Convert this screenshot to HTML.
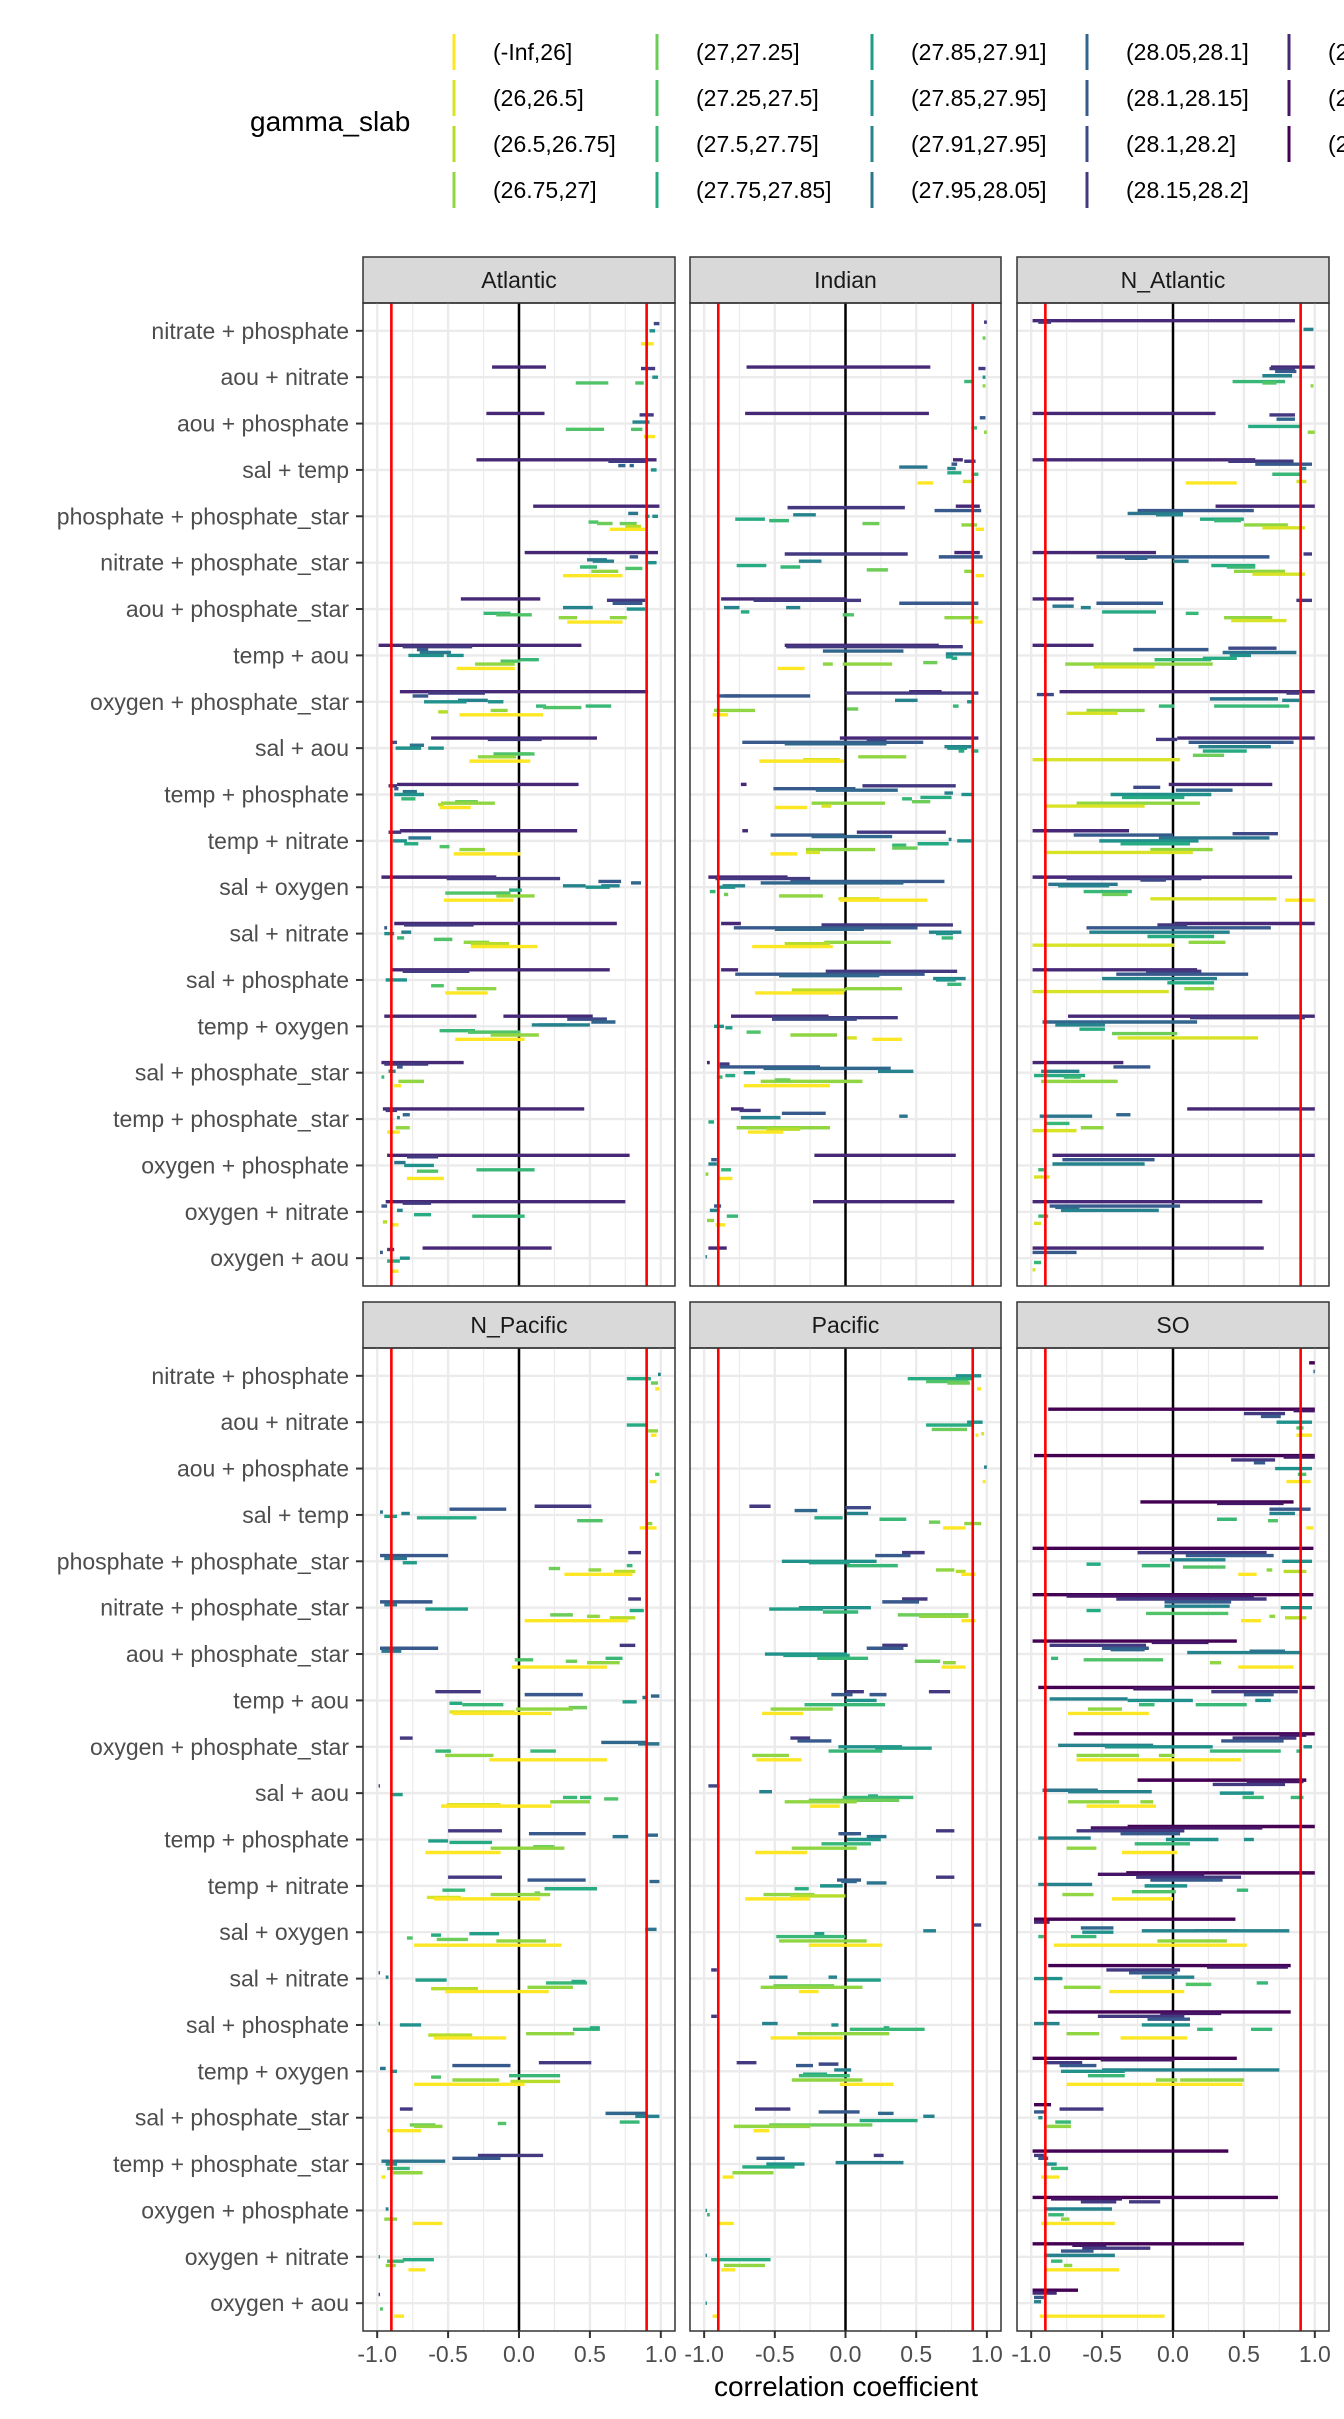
<!DOCTYPE html>
<html><head><meta charset="utf-8"><title>Correlation coefficients by gamma_slab</title>
<style>
html,body{margin:0;padding:0;background:#fff;}
svg{display:block;font-family:"Liberation Sans",Arial,sans-serif;}
</style></head>
<body>
<svg id="chart" xmlns="http://www.w3.org/2000/svg" width="1344" height="2419" viewBox="0 0 1344 2419">
<rect x="0" y="0" width="1344" height="2419" fill="#fff"/>
<g id="legend">
<text x="250" y="131" font-size="28" fill="#000">gamma_slab</text>
</g>
<g id="panels"></g>
<text x="846" y="2396" font-size="28" fill="#000" text-anchor="middle">correlation coefficient</text>
</svg>
<script>
// ---- data ----
const rowLabels = ["nitrate + phosphate","aou + nitrate","aou + phosphate","sal + temp","phosphate + phosphate_star","nitrate + phosphate_star","aou + phosphate_star","temp + aou","oxygen + phosphate_star","sal + aou","temp + phosphate","temp + nitrate","sal + oxygen","sal + nitrate","sal + phosphate","temp + oxygen","sal + phosphate_star","temp + phosphate_star","oxygen + phosphate","oxygen + nitrate","oxygen + aou"];
const panelNames = ["Atlantic","Indian","N_Atlantic","N_Pacific","Pacific","SO"];
const levelLabels = ["(-Inf,26]","(26,26.5]","(26.5,26.75]","(26.75,27]","(27,27.25]","(27.25,27.5]","(27.5,27.75]","(27.75,27.85]","(27.85,27.91]","(27.85,27.95]","(27.91,27.95]","(27.95,28.05]","(28.05,28.1]","(28.1,28.15]","(28.1,28.2]","(28.15,28.2]","(28.2,28.3]","(28.3,28.4]","(28.4,Inf]"];
const xTicks = [-1.0,-0.5,0.0,0.5,1.0];
const xTickLabels = ["-1.0","-0.5","0.0","0.5","1.0"];
const thresholds = [-0.9,0.9];
// segments: [row, level, xmin, xmax]
const segAtlantic = [
[0,9,.92,.96],[0,0,.86,.95],[0,14,.95,.99],
[1,16,-.19,.19],[1,15,.86,.96],[1,5,.40,.63],[1,5,.82,.88],[1,9,.94,.98],
[2,16,-.23,.18],[2,15,.85,.95],[2,10,.80,.92],[2,5,.33,.60],[2,5,.79,.87],[2,0,.88,.96],
[3,16,-.30,.97],[3,15,.63,.90],[3,12,.70,.75],[3,12,.78,.81],[3,9,.93,.97],
[4,16,.10,.99],[4,11,.77,.84],[4,9,.89,.92],[4,5,.49,.56],[4,4,.55,.66],[4,4,.71,.83],[4,2,.75,.86],[4,0,.64,.89],[4,9,.94,.98],
[5,16,.04,.98],[5,11,.48,.62],[5,10,.52,.67],[5,13,.78,.84],[5,6,.43,.55],[5,5,.75,.87],[5,3,.51,.70],[5,0,.31,.73],[5,9,.91,.97],
[6,16,-.41,.15],[6,15,.62,.89],[6,13,.66,.87],[6,10,.31,.52],[6,9,.76,.89],[6,6,-.25,-.06],[6,5,-.16,.09],[6,3,.28,.41],[6,3,.64,.76],[6,0,.34,.73],
[7,16,-.99,.44],[7,15,-.82,-.33],[7,13,-.72,-.64],[7,11,-.70,-.48],[7,9,-.78,-.53],[7,9,-.51,-.39],[7,6,.01,.14],[7,5,-.13,.01],[7,3,-.31,-.03],[7,0,-.44,-.03],
[8,16,-.84,.91],[8,15,-.64,-.24],[8,13,-.75,-.64],[8,10,-.43,-.22],[8,9,-.67,-.37],[8,9,-.22,-.11],[8,6,.12,.19],[8,5,.17,.44],[8,6,.47,.65],[8,3,-.20,-.08],[8,2,-.57,-.50],[8,0,-.42,.17],
[9,16,-.62,.55],[9,15,-.22,.16],[9,13,-.90,-.86],[9,11,-.77,-.67],[9,9,-.87,-.69],[9,9,-.64,-.53],[9,5,-.18,.11],[9,5,-.01,.08],[9,3,-.29,-.02],[9,0,-.35,.08],
[10,16,-.86,.42],[10,15,-.92,-.86],[10,13,-.88,-.85],[10,11,-.82,-.72],[10,9,-.88,-.67],[10,6,-.83,-.73],[10,4,-.45,-.29],[10,3,-.55,-.17],[10,2,-.57,-.53],[10,0,-.56,-.34],
[11,16,-.84,.41],[11,15,-.92,-.83],[11,11,-.78,-.62],[11,9,-.89,-.79],[11,7,-.81,-.71],[11,5,-.56,-.49],[11,3,-.42,-.24],[11,0,-.46,.01],
[12,16,-.97,-.16],[12,15,-.51,.29],[12,13,.56,.72],[12,12,.79,.86],[12,10,.31,.47],[12,10,.58,.71],[12,9,.47,.64],[12,7,-.07,.02],[12,5,-.52,-.16],[12,5,-.17,-.06],[12,3,-.16,.11],[12,0,-.53,-.04],
[13,16,-.88,.69],[13,15,-.81,-.32],[13,13,-.95,-.93],[13,10,-.83,-.76],[13,9,-.95,-.88],[13,6,-.86,-.81],[13,5,-.60,-.47],[13,3,-.39,-.21],[13,2,-.34,-.07],[13,0,-.34,.13],
[14,16,-.90,.64],[14,15,-.82,-.35],[14,9,-.94,-.79],[14,5,-.62,-.53],[14,3,-.44,-.16],[14,0,-.52,-.22],
[15,16,-.95,-.30],[15,16,-.11,.52],[15,14,.34,.62],[15,12,.51,.68],[15,10,.14,.50],[15,10,.09,.33],[15,6,-.56,-.31],[15,5,-.36,.01],[15,3,-.20,.14],[15,0,-.45,.04],
[16,16,-.97,-.39],[16,15,-.95,-.64],[16,13,-.86,-.82],[16,10,-.92,-.87],[16,6,-.97,-.95],[16,3,-.85,-.67],[16,0,-.88,-.83],
[17,16,-.96,.46],[17,15,-.94,-.86],[17,12,-.82,-.77],[17,10,-.86,-.84],[17,3,-.87,-.77],[17,0,-.93,-.84],
[18,16,-.93,.78],[18,15,-.79,-.57],[18,11,-.88,-.80],[18,9,-.81,-.60],[18,6,-.30,.11],[18,5,-.72,-.57],[18,0,-.79,-.53],
[19,16,-.94,.75],[19,15,-.82,-.62],[19,13,-.97,-.93],[19,10,-.86,-.82],[19,7,-.74,-.62],[19,6,-.33,.04],[19,2,-.96,-.93],[19,0,-.90,-.85],
[20,16,-.68,.23],[20,15,-.93,-.88],[20,13,-.98,-.96],[20,9,-.84,-.77],[20,7,-.93,-.84],[20,0,-.90,-.85]
];
const segIndian = [
[0,15,.98,1.0],[0,4,.97,.99],
[1,16,-.70,.60],[1,15,.94,.99],[1,6,.84,.90],[1,9,.97,.99],[1,3,.97,.99],
[2,16,-.71,.59],[2,13,.95,.99],[2,6,.89,.93],[2,3,.98,1.0],
[3,16,.76,.83],[3,15,.84,.92],[3,13,.75,.79],[3,11,.38,.58],[3,10,.72,.78],[3,7,.72,.82],[3,6,.89,.94],[3,0,.51,.62],[3,1,.83,.91],
[4,16,.78,.95],[4,15,-.41,.42],[4,13,.63,.96],[4,10,-.37,-.21],[4,7,-.78,-.57],[4,6,-.54,-.40],[4,4,.12,.24],[4,3,.82,.93],[4,0,.92,.98],
[5,16,.77,.95],[5,15,-.43,.44],[5,13,.66,.97],[5,10,-.33,-.17],[5,7,-.77,-.56],[5,6,-.46,-.32],[5,4,.15,.30],[5,3,.84,.91],[5,0,.92,.98],
[6,16,-.88,.01],[6,15,-.65,.01],[6,15,.01,.11],[6,13,.38,.94],[6,10,-.42,-.32],[6,10,-.86,-.75],[6,7,-.74,-.68],[6,5,-.02,.06],[6,3,.70,.94],[6,0,.88,.97],
[7,16,-.43,.66],[7,15,-.42,.83],[7,12,-.16,.41],[7,10,.71,.91],[7,8,.71,.76],[7,7,.75,.79],[7,4,.55,.65],[7,3,-.02,.33],[7,3,-.16,-.09],[7,0,-.48,-.29],
[8,16,.45,.68],[8,15,0,.94],[8,13,-.91,-.25],[8,13,-.86,-.74],[8,10,.35,.51],[8,9,.86,.91],[8,6,.76,.80],[8,4,.01,.09],[8,3,-.93,-.64],[8,0,-.94,-.83],
[9,16,-.04,.94],[9,15,.15,.29],[9,13,-.73,.55],[9,12,-.43,.29],[9,10,.70,.89],[9,9,.72,.86],[9,7,.80,.84],[9,7,.89,.94],[9,3,.09,.43],[9,1,-.30,-.04],[9,0,-.61,-.01],
[10,16,-.74,-.70],[10,15,.12,.78],[10,13,-.51,.07],[10,12,-.21,.37],[10,10,.70,.76],[10,9,.82,.91],[10,7,.53,.75],[10,6,.40,.47],[10,4,.47,.60],[10,3,-.24,.28],[10,1,-.17,-.10],[10,0,-.50,-.27],
[11,16,-.73,-.69],[11,15,.08,.71],[11,13,-.53,-.01],[11,12,-.24,.33],[11,10,.73,.75],[11,9,.79,.89],[11,7,.51,.73],[11,6,.33,.43],[11,4,.33,.51],[11,3,-.28,.21],[11,1,-.28,-.18],[11,0,-.53,-.34],
[12,16,-.97,-.41],[12,15,-.92,-.25],[12,13,-.39,.70],[12,12,-.60,.41],[12,10,-.87,-.71],[12,9,-.90,-.78],[12,6,-.96,-.92],[12,4,-.86,-.83],[12,3,-.47,-.16],[12,1,-.05,.24],[12,0,-.04,.58],
[13,16,-.88,-.74],[13,15,-.17,.76],[13,13,-.79,.51],[13,12,-.50,.13],[13,10,.59,.82],[13,9,.64,.76],[13,6,.68,.76],[13,3,-.15,.32],[13,2,-.43,-.11],[13,0,-.66,-.09],
[14,16,-.88,-.76],[14,15,-.14,.79],[14,13,-.78,.56],[14,12,-.47,.24],[14,10,.62,.85],[14,9,.64,.78],[14,6,.72,.82],[14,3,0,.40],[14,2,-.38,0],[14,0,-.64,-.01],
[15,16,-.81,-.12],[15,15,-.52,.37],[15,14,-.52,.08],[15,9,-.93,-.86],[15,8,-.85,-.80],[15,5,-.70,-.60],[15,3,-.39,-.06],[15,1,.01,.08],[15,0,.19,.40],
[16,16,-.98,-.96],[16,15,-.89,-.82],[16,13,-.89,-.18],[16,12,-.58,.32],[16,10,.23,.48],[16,9,-.72,-.64],[16,7,-.85,-.78],[16,6,-.91,-.87],[16,3,-.60,.12],[16,4,-.50,-.39],[16,0,-.72,-.11],
[17,16,-.81,-.72],[17,15,-.75,-.60],[17,13,-.45,-.14],[17,10,-.74,-.46],[17,11,.38,.44],[17,7,-.97,-.93],[17,3,-.77,-.11],[17,2,-.56,-.32],[17,0,-.69,-.44],
[18,16,-.22,.78],[18,13,-.95,-.91],[18,10,-.97,-.91],[18,6,-.88,-.81],[18,3,-.99,-.97],[18,0,-.89,-.80],
[19,16,-.23,.77],[19,13,-.93,-.88],[19,10,-.96,-.89],[19,6,-.84,-.76],[19,3,-.98,-.93],[19,0,-.92,-.85],
[20,16,-.97,-.84],[20,10,-.99,-.98]
];
const segNAtlantic = [
[0,16,-.99,.86],[0,15,-.95,-.86],[0,10,.92,.99],
[1,16,.69,1.0],[1,15,.68,.86],[1,13,.72,.87],[1,10,.63,.84],[1,6,.42,.79],[1,5,.63,.73],[1,3,.97,.99],
[2,16,-.99,.30],[2,15,.68,.86],[2,12,.73,.86],[2,7,.53,.91],[2,3,.95,1.0],
[3,16,-.99,.58],[3,15,.39,.85],[3,13,.58,.98],[3,10,.89,.94],[3,6,.70,.90],[3,0,.09,.45],[3,1,.87,.94],
[4,16,.30,1.0],[4,13,-.25,.57],[4,11,-.32,.07],[4,10,-.12,.07],[4,7,.19,.50],[4,6,.29,.48],[4,3,.50,.81],[4,1,.63,.93],
[5,16,-.99,-.12],[5,15,.92,.98],[5,13,-.54,.68],[5,12,-.34,-.18],[5,10,0,.11],[5,7,.27,.58],[5,6,.38,.58],[5,3,.43,.79],[5,1,.56,.93],
[6,16,-.99,-.70],[6,15,.87,.98],[6,11,-.85,-.70],[6,13,-.54,-.07],[6,10,-.65,-.58],[6,7,-.50,-.12],[6,6,.09,.18],[6,3,.36,.70],[6,1,.41,.80],
[7,16,-.99,-.56],[7,13,-.28,.25],[7,14,.39,.73],[7,11,.35,.87],[7,9,.40,.55],[7,6,-.13,.27],[7,7,.21,.45],[7,3,-.76,.28],[7,1,-.56,-.13],
[8,16,-.80,1.0],[8,15,.80,.89],[8,14,-.96,-.84],[8,11,.26,.74],[8,10,.77,.89],[8,6,.29,.82],[8,6,-.10,.01],[8,3,-.61,-.20],[8,1,-.75,-.39],
[9,16,.03,1.0],[9,15,-.12,.03],[9,13,.11,.85],[9,10,.18,.69],[9,7,.21,.52],[9,4,.14,.36],[9,1,-.99,.05],
[10,16,-.03,.70],[10,14,-.28,-.09],[10,12,.02,.42],[10,9,-.44,.27],[10,7,-.36,.08],[10,3,-.68,.19],[10,1,-.90,-.20],
[11,16,-.99,-.31],[11,14,.42,.74],[11,13,-.70,0],[11,11,-.10,.68],[11,9,-.52,.18],[11,7,-.37,.12],[11,3,-.16,.28],[11,1,-.89,.14],
[12,16,-.99,.84],[12,15,-.75,.20],[12,14,-.23,-.05],[12,11,-.88,-.39],[12,10,-.81,-.45],[12,6,-.63,-.29],[12,4,-.50,-.32],[12,1,-.16,.73],[12,0,.79,1.0],
[13,16,.01,1.0],[13,15,-.11,.10],[13,13,-.61,.69],[13,10,-.59,.40],[13,7,-.18,.29],[13,3,.11,.37],[13,1,-.99,.01],
[14,16,-.99,.17],[14,15,-.19,.20],[14,13,-.40,.53],[14,10,-.50,.31],[14,7,-.04,.29],[14,3,.08,.29],[14,1,-.99,-.03],
[15,16,-.74,1.0],[15,15,.12,.93],[15,12,-.92,.17],[15,10,-.83,-.48],[15,7,-.66,-.48],[15,4,-.43,.03],[15,1,-.39,.60],
[16,16,-.99,-.35],[16,13,-.42,-.16],[16,10,-.93,-.66],[16,7,-.98,-.62],[16,6,-.77,-.65],[16,3,-.93,-.39],
[17,16,.10,1.0],[17,11,-.94,-.57],[17,12,-.40,-.30],[17,6,-.90,-.73],[17,3,-.65,-.49],[17,1,-.99,-.68],
[18,16,-.85,1.0],[18,13,-.78,-.13],[18,10,-.85,-.20],[18,6,-.95,-.91],[18,1,-.98,-.87],
[19,16,-.99,.63],[19,13,-.87,.05],[19,12,-.83,-.66],[19,10,-.79,-.10],[19,6,-.95,-.88],[19,1,-.98,-.93],
[20,16,-.99,.64],[20,13,-.99,-.68],[20,6,-.98,-.93],[20,1,-.99,-.97]
];
const segNPacific = [
[0,7,.76,.93],[0,4,.93,.98],[0,0,.96,.99],[0,10,.98,1.0],
[1,7,.76,.91],[1,3,.91,.98],[1,0,.93,.97],
[2,0,.92,.97],[2,5,.96,.99],
[3,15,.11,.51],[3,13,-.49,-.09],[3,11,-.98,-.96],[3,10,-.83,-.77],[3,7,-.72,-.30],[3,8,-.95,-.86],[3,5,.41,.59],[3,3,.90,.94],[3,0,.85,.97],
[4,15,.77,.86],[4,13,-.98,-.50],[4,11,-.95,-.79],[4,8,-.82,-.72],[4,6,.76,.80],[4,4,.21,.29],[4,3,.49,.58],[4,2,.67,.82],[4,0,.32,.80],
[5,15,.77,.86],[5,13,-.98,-.61],[5,11,-.95,-.86],[5,8,-.66,-.36],[5,7,.78,.88],[5,4,.22,.38],[5,3,.48,.57],[5,2,.64,.82],[5,0,.04,.77],
[6,15,.71,.82],[6,13,-.98,-.57],[6,11,-.97,-.83],[6,6,.61,.73],[6,5,-.03,.10],[6,4,.33,.41],[6,3,.48,.71],[6,0,-.05,.62],
[7,15,-.59,-.27],[7,13,.04,.45],[7,11,.87,.90],[7,12,.93,.99],[7,8,.73,.83],[7,7,-.49,-.40],[7,6,-.40,-.11],[7,4,.35,.48],[7,3,-.02,.38],[7,1,-.49,-.03],[7,0,-.47,.23],
[8,15,-.84,-.75],[8,12,.58,.90],[8,11,.84,.99],[8,6,.08,.26],[8,6,-.59,-.48],[8,3,-.52,-.18],[8,0,-.21,.62],
[9,14,-.99,-.98],[9,8,-.91,-.82],[9,6,.31,.41],[9,6,.43,.51],[9,5,.60,.70],[9,3,.22,.50],[9,1,-.51,-.13],[9,0,-.55,.23],
[10,15,-.50,-.12],[10,13,.07,.47],[10,11,.66,.77],[10,12,.90,.98],[10,8,-.64,-.50],[10,7,-.49,-.19],[10,4,.10,.25],[10,3,-.20,.32],[10,0,-.66,-.13],
[11,15,-.50,-.12],[11,13,.06,.47],[11,12,.92,.99],[11,7,.18,.55],[11,6,-.54,-.38],[11,4,.11,.15],[11,3,-.20,.22],[11,1,-.65,-.41],[11,0,-.60,.15],
[12,11,.89,.97],[12,8,-.35,-.14],[12,7,-.62,-.55],[12,5,-.79,-.75],[12,4,-.58,-.36],[12,3,-.16,.19],[12,0,-.74,.30],
[13,13,-.99,-.98],[13,10,-.94,-.92],[13,8,-.73,-.51],[13,6,.19,.48],[13,7,.37,.47],[13,3,.06,.38],[13,2,-.62,-.29],[13,0,-.52,.21],
[14,10,-.99,-.98],[14,9,-.84,-.69],[14,6,.38,.57],[14,7,.50,.57],[14,3,.05,.39],[14,2,-.64,-.33],[14,0,-.60,-.09],
[15,15,.14,.51],[15,13,-.47,-.06],[15,11,-.98,-.94],[15,9,-.91,-.86],[15,6,-.07,.29],[15,5,-.62,-.55],[15,3,-.47,-.14],[15,2,-.06,.29],[15,0,-.74,.04],
[16,15,-.84,-.75],[16,12,.61,.90],[16,10,.82,.99],[16,6,.71,.85],[16,5,-.15,-.09],[16,4,-.77,-.59],[16,3,-.74,-.54],[16,0,-.93,-.69],
[17,15,-.29,.17],[17,13,-.47,-.13],[17,11,-.97,-.52],[17,9,-.94,-.86],[17,6,-.93,-.77],[17,3,-.89,-.68],[17,0,-.97,-.94],
[18,10,-.94,-.92],[18,3,-.95,-.86],[18,0,-.75,-.54],
[19,9,-.99,-.98],[19,7,-.82,-.60],[19,6,-.93,-.81],[19,3,-.94,-.87],[19,0,-.78,-.66],
[20,15,-.99,-.98],[20,5,-.98,-.96],[20,0,-.88,-.81]
];
const segPacific = [
[0,9,.78,.96],[0,7,.44,.90],[0,5,.57,.87],[0,4,.72,.88],[0,0,.93,.96],
[1,9,.86,.97],[1,7,.57,.90],[1,4,.61,.86],[1,0,.92,.94],[1,1,.96,.98],
[2,10,.98,1.0],[2,0,.97,.99],
[3,15,-.68,-.53],[3,14,0,.18],[3,12,-.36,-.20],[3,10,.01,.16],[3,7,-.22,-.02],[3,6,.24,.43],[3,4,.59,.67],[3,3,.84,.96],[3,0,.69,.85],
[4,15,.40,.56],[4,13,.21,.46],[4,9,-.45,.22],[4,8,-.26,.03],[4,6,.01,.37],[4,3,.64,.77],[4,2,.78,.85],[4,0,.82,.92],
[5,15,.40,.58],[5,13,.26,.52],[5,9,-.33,.18],[5,8,-.54,-.16],[5,6,-.16,.09],[5,4,.37,.87],[5,3,.52,.87],[5,0,.82,.92],
[6,15,.26,.44],[6,13,.15,.41],[6,9,-.57,.01],[6,8,-.44,.03],[6,6,-.20,.16],[6,4,.49,.67],[6,3,.69,.78],[6,0,.68,.85],
[7,15,.59,.74],[7,15,0,.13],[7,13,-.10,.05],[7,13,.17,.29],[7,9,0,.22],[7,6,-.29,.28],[7,3,-.53,-.09],[7,0,-.59,-.30],
[8,15,-.39,-.25],[8,13,-.34,-.10],[8,9,-.05,.40],[8,8,.21,.61],[8,6,-.12,.26],[8,3,-.66,-.40],[8,0,-.63,-.31],
[9,14,-.97,-.89],[9,10,-.61,-.52],[9,7,.16,.23],[9,6,-.02,.48],[9,4,-.26,.38],[9,3,-.43,.08],[9,0,-.25,-.04],
[10,15,.64,.77],[10,13,-.05,.11],[10,13,-.03,.07],[10,11,.15,.29],[10,9,.01,.25],[10,6,-.17,.18],[10,3,-.38,.08],[10,0,-.64,-.27],
[11,15,.64,.77],[11,13,-.06,.11],[11,12,-.03,.08],[11,11,.15,.29],[11,9,-.18,-.02],[11,7,-.36,-.26],[11,3,-.58,-.22],[11,2,-.39,0],[11,0,-.71,-.25],
[12,14,.90,.96],[12,10,.55,.64],[12,8,-.22,-.15],[12,6,-.49,0],[12,3,-.47,.15],[12,0,-.26,.26],
[13,15,-.95,-.91],[13,10,-.54,-.41],[13,10,-.12,-.06],[13,8,.01,.25],[13,4,-.51,-.08],[13,3,-.60,.12],[13,0,-.33,-.19],
[14,15,-.95,-.91],[14,10,-.59,-.48],[14,9,-.10,-.05],[14,7,.27,.31],[14,6,.03,.56],[14,3,-.34,.31],[14,0,-.53,-.02],
[15,15,-.77,-.63],[15,13,-.35,-.23],[15,14,-.19,-.05],[15,10,-.08,.04],[15,7,-.30,-.13],[15,6,-.33,.03],[15,3,-.38,.12],[15,0,-.04,.34],
[16,15,-.64,-.39],[16,13,-.19,.10],[16,12,.23,.34],[16,10,.55,.63],[16,7,.10,.51],[16,4,-.54,.19],[16,3,-.79,-.25],[16,0,-.65,-.54],
[17,15,.20,.27],[17,13,-.63,-.43],[17,10,-.07,.41],[17,9,-.56,-.29],[17,7,-.73,-.36],[17,3,-.80,-.51],[17,0,-.87,-.79],
[18,9,-.99,-.98],[18,6,-.98,-.96],[18,0,-.89,-.79],
[19,10,-.99,-.98],[19,7,-.95,-.53],[19,3,-.86,-.57],[19,0,-.88,-.78],
[20,9,-.99,-.98],[20,0,-.94,-.89]
];
const segSO = [
[0,18,.96,1.0],[0,12,.99,1.0],
[1,18,-.88,1.0],[1,17,.85,1.0],[1,15,.50,.79],[1,13,.62,.76],[1,9,.73,.98],[1,5,.87,.92],[1,0,.87,.98],
[2,18,-.98,1.0],[2,17,.78,1.0],[2,15,.41,.72],[2,13,.57,.65],[2,9,.72,.98],[2,5,.88,.94],[2,0,.80,.97],
[3,18,-.23,.85],[3,17,.31,.78],[3,13,.68,.97],[3,10,.68,.86],[3,6,.31,.45],[3,5,.67,.74],[3,0,.94,.99],
[4,18,-.99,.99],[4,15,-.25,.66],[4,13,.09,.71],[4,10,-.02,.37],[4,9,.77,.98],[4,7,-.61,-.51],[4,6,-.22,-.02],[4,5,.07,.37],[4,3,.66,.70],[4,2,.78,.94],[4,0,.46,.59],
[5,18,-.99,.99],[5,17,-.75,.57],[5,15,-.40,.66],[5,13,-.06,.41],[5,10,-.06,.40],[5,9,.76,.98],[5,7,-.61,-.51],[5,5,-.19,.39],[5,3,.68,.72],[5,2,.79,.94],[5,0,.48,.62],
[6,18,-.99,.45],[6,17,-.15,.25],[6,15,-.87,-.19],[6,13,-.50,-.17],[6,12,-.44,-.20],[6,10,.10,.91],[6,11,.54,.79],[6,6,-.86,-.81],[6,5,-.63,-.07],[6,3,.26,.34],[6,0,.46,.85],
[7,18,-.95,1.0],[7,17,-.28,.01],[7,15,.27,.88],[7,13,.50,.71],[7,10,-.87,-.32],[7,9,-.32,.14],[7,9,.58,.69],[7,6,-.24,-.13],[7,6,.16,.52],[7,3,-.60,-.36],[7,0,-.74,-.17],
[8,18,-.70,1.0],[8,17,.75,.94],[8,15,.42,.87],[8,13,.34,.78],[8,10,-.81,-.14],[8,9,-.48,.28],[8,9,.92,.98],[8,6,.26,.76],[8,6,.87,.91],[8,3,-.68,-.24],[8,3,-.10,.01],[8,0,-.68,.48],
[9,18,-.25,.94],[9,17,.52,.92],[9,15,.28,.79],[9,11,-.92,-.53],[9,10,-.74,-.15],[9,9,.33,.57],[9,6,.49,.64],[9,6,.83,.92],[9,3,-.23,-.14],[9,3,-.74,-.38],[9,0,-.61,-.12],
[10,18,-.32,1.0],[10,17,-.58,.63],[10,15,-.68,.08],[10,13,-.37,.05],[10,10,-.95,-.58],[10,9,-.05,.32],[10,9,.50,.57],[10,6,-.27,.12],[10,3,-.75,-.54],[10,0,-.36,.03],
[11,18,-.33,1.0],[11,17,-.53,.22],[11,15,-.26,.48],[11,13,-.16,.35],[11,10,-.95,-.57],[11,9,-.20,.10],[11,6,.45,.53],[11,5,-.29,.02],[11,3,-.78,-.56],[11,0,-.43,0],
[12,18,-.98,.44],[12,16,-.98,-.87],[12,12,-.65,-.42],[12,10,-.22,.82],[12,10,.15,.46],[12,9,-.64,-.42],[12,6,-.72,-.54],[12,6,-.95,-.91],[12,3,-.11,.38],[12,0,-.84,.52],
[13,18,-.88,.83],[13,17,.24,.81],[13,15,-.47,.05],[13,13,-.31,.03],[13,10,-.22,.15],[13,9,-.98,-.78],[13,6,.59,.67],[13,5,.09,.27],[13,3,-.77,-.51],[13,0,-.45,.08],
[14,18,-.88,.83],[14,17,-.09,.34],[14,15,-.53,.08],[14,13,-.18,.12],[14,10,-.98,-.80],[14,9,-.22,.12],[14,6,.17,.28],[14,6,.55,.70],[14,3,-.75,-.52],[14,0,-.37,.10],
[15,18,-.99,.45],[15,17,-.51,.01],[15,15,-.91,-.64],[15,13,-.80,-.54],[15,10,-.50,.75],[15,9,-.79,-.34],[15,6,-.60,-.34],[15,3,-.12,.03],[15,3,.05,.50],[15,0,-.75,.49],
[16,18,-.98,-.86],[16,15,-.80,-.49],[16,13,-.98,-.90],[16,9,-.95,-.92],[16,6,-.83,-.72],[16,3,-.89,-.72],
[17,18,-.99,.39],[17,15,-.98,-.91],[17,13,-.95,-.88],[17,9,-.91,-.82],[17,6,-.86,-.74],[17,0,-.93,-.80],
[18,18,-.99,.74],[18,17,-.86,-.36],[18,15,-.65,-.40],[18,15,-.31,-.09],[18,10,-.91,-.43],[18,6,-.88,-.77],[18,3,-.79,-.73],[18,0,-.93,-.41],
[19,18,-.99,.50],[19,17,-.71,-.47],[19,15,-.64,-.16],[19,13,-.79,-.56],[19,10,-.91,-.41],[19,6,-.86,-.78],[19,3,-.77,-.71],[19,0,-.90,-.38],
[20,18,-.99,-.67],[20,16,-.99,-.82],[20,13,-.98,-.91],[20,10,-.98,-.93],[20,0,-.94,-.06]
];
const panelSegments = [segAtlantic, segIndian, segNAtlantic, segNPacific, segPacific, segSO];

// ---- layout ----
const NS = "http://www.w3.org/2000/svg";
const svg = document.getElementById("chart");
const panelsG = document.getElementById("panels");
const legendG = document.getElementById("legend");
const colX = [[363,675],[690,1001],[1017,1329]];
const rowTop = [303,1348];
const stripTop = [257,1302];
const panelH = 983;
const XMIN = -1.1, XMAX = 1.1;
const vir = ["#440154","#482475","#414487","#355f8d","#2a788e","#21918c","#22a884","#44bf70","#7ad151","#bddf26","#fde725"];
function hex2rgb(h){return [parseInt(h.substr(1,2),16),parseInt(h.substr(3,2),16),parseInt(h.substr(5,2),16)];}
function viridis(t){
  const p=t*10, i=Math.min(9,Math.floor(p)), f=p-i;
  const a=hex2rgb(vir[i]), b=hex2rgb(vir[i+1]);
  return "rgb("+a.map((v,k)=>Math.round(v+(b[k]-v)*f)).join(",")+")";
}
const NL = levelLabels.length;
function levelColor(l){return viridis(1 - l/(NL-1));}
function mk(tag, attrs){const e=document.createElementNS(NS,tag); for(const k in attrs) e.setAttribute(k, attrs[k]); return e;}

// legend
for (let i=0;i<NL;i++){
  const col=Math.floor(i/4), r=i%4;
  const kx=[454,657,872,1087,1289][col], cy=[52,98,144,190][r];
  const g=mk("g",{});
  
  
  const ln=mk("line",{x1:kx,x2:kx,y1:cy-18,y2:cy+18,stroke:levelColor(i),"stroke-width":3});
  
  
  const tx=mk("text",{x:kx+39,y:cy+8,"font-size":23,fill:"#000"});
  
  
  tx.textContent=levelLabels[i];
  g.appendChild(ln); g.appendChild(tx); legendG.appendChild(g);
}

panelNames.forEach((name, pi)=>{
  const c=pi%3, r=Math.floor(pi/3);
  const x0=colX[c][0], x1=colX[c][1], y0=rowTop[r], y1=y0+panelH;
  const W=x1-x0;
  const xs=v=>x0+(v-XMIN)/(XMAX-XMIN)*W;
  const unit=panelH/(rowLabels.length-1+1.2);
  const ys=k=>y0+(0.6+k)*unit;
  const g=mk("g",{});
  
  
  panelsG.appendChild(g);
  const st=mk("rect",{x:x0,y:stripTop[r],width:W,height:y0-stripTop[r],fill:"#d9d9d9",stroke:"#333","stroke-width":1.5});
  
  
  g.appendChild(st);
  const stt=mk("text",{x:(x0+x1)/2,y:stripTop[r]+31,"font-size":23,fill:"#1a1a1a","text-anchor":"middle"});
  
  
  stt.textContent=name; g.appendChild(stt);
  [-0.75,-0.25,0.25,0.75].forEach(v=>{
    const l=mk("line",{x1:xs(v),x2:xs(v),y1:y0,y2:y1,stroke:"#ebebeb","stroke-width":1.2});
    
    
    g.appendChild(l);
  });
  xTicks.forEach(v=>{
    const l=mk("line",{x1:xs(v),x2:xs(v),y1:y0,y2:y1,stroke:"#ebebeb","stroke-width":2.4});
    
    
    g.appendChild(l);
  });
  rowLabels.forEach((lab,k)=>{
    const l=mk("line",{x1:x0,x2:x1,y1:ys(k),y2:ys(k),stroke:"#ebebeb","stroke-width":2.4});
    
    
    g.appendChild(l);
  });
  const z=mk("line",{x1:xs(0),x2:xs(0),y1:y0,y2:y1,stroke:"#000","stroke-width":2.5});
  
  
  g.appendChild(z);
  panelSegments[pi].forEach(s=>{
    const yy=ys(s[0]) + 13 - s[1]*26/(NL-1);
    const l=mk("line",{x1:xs(s[2]),x2:xs(s[3]),y1:yy,y2:yy,stroke:levelColor(s[1]),"stroke-width":3.4});
    
    
    g.appendChild(l);
  });
  thresholds.forEach(v=>{
    const l=mk("line",{x1:xs(v),x2:xs(v),y1:y0,y2:y1,stroke:"#ff0000","stroke-width":2.6});
    
    
    g.appendChild(l);
  });
  const bd=mk("rect",{x:x0,y:y0,width:W,height:panelH,fill:"none",stroke:"#333","stroke-width":1.5});
  
  
  g.appendChild(bd);
  if(c===0){
    rowLabels.forEach((lab,k)=>{
      const tk=mk("line",{x1:x0-7,x2:x0,y1:ys(k),y2:ys(k),stroke:"#333","stroke-width":2});
      
      
      g.appendChild(tk);
      const t=mk("text",{x:x0-14,y:ys(k)+8,"font-size":23,fill:"#4d4d4d","text-anchor":"end"});
      
      
      t.textContent=lab; g.appendChild(t);
    });
  }
  if(r===1){
    xTicks.forEach((v,i)=>{
      const tk=mk("line",{x1:xs(v),x2:xs(v),y1:y1,y2:y1+7,stroke:"#333","stroke-width":2});
      
      
      g.appendChild(tk);
      const t=mk("text",{x:xs(v),y:y1+31,"font-size":23,fill:"#4d4d4d","text-anchor":"middle"});
      
      
      t.textContent=xTickLabels[i]; g.appendChild(t);
    });
  }
});
</script>
</body></html>
